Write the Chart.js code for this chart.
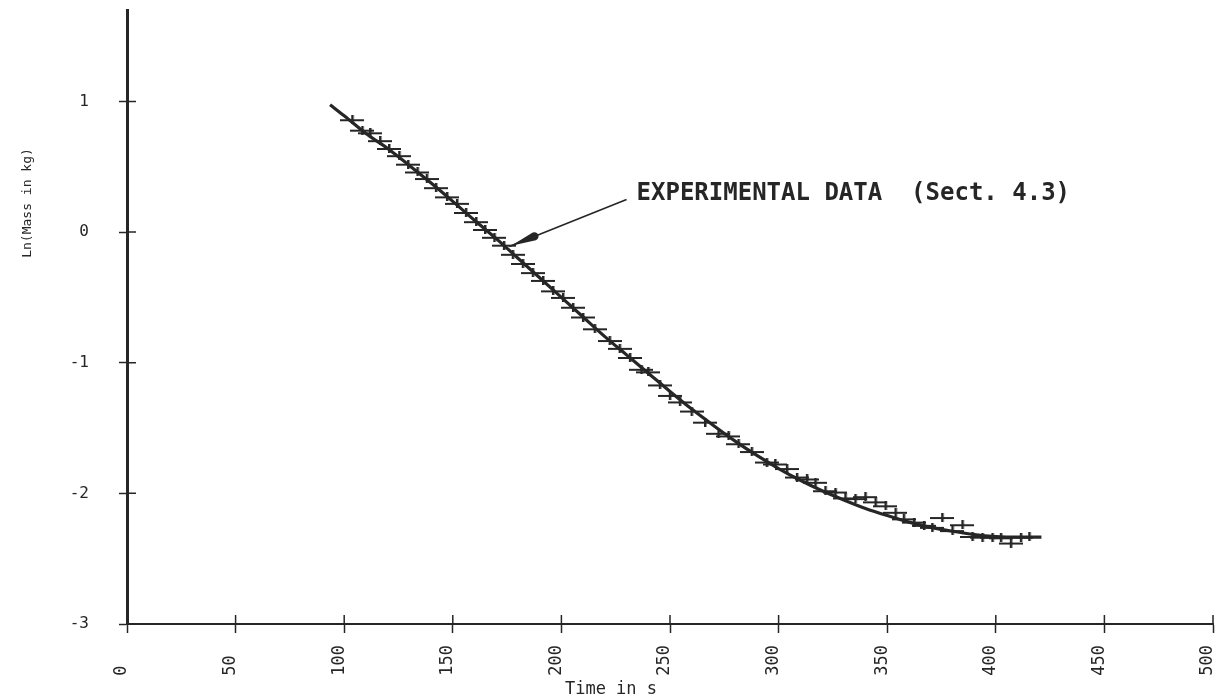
<!DOCTYPE html>
<html>
<head>
<meta charset="utf-8">
<script src="https://cdn.jsdelivr.net/npm/chart.js@4.4.1/dist/chart.umd.min.js"></script>
<style>
  html, body { margin: 0; padding: 0; background: #fff; }
  #wrap { width: 1231px; height: 699px; }
</style>
</head>
<body>
<div id="wrap"><canvas id="massChart"></canvas></div>
<script>
// measured points (time in s, ln of mass in kg)
const timeS = [
  103.7, 108.3, 111.9, 116.5, 120.6, 125.3, 129.4, 133.7, 138.0, 142.2,
  147.3, 151.9, 156.0, 160.7, 164.8, 169.1, 173.5, 177.6, 182.2, 186.8,
  191.5, 196.1, 200.7, 205.3, 209.9, 215.3, 222.2, 226.8, 231.5, 236.8,
  239.9, 245.3, 249.9, 254.5, 259.9, 266.1, 272.3, 276.9, 281.5, 287.6,
  294.5, 298.4, 303.8, 308.4, 313.0, 316.9, 321.5, 326.1, 330.7, 335.3,
  339.9, 344.6, 349.2, 353.8, 357.6, 362.3, 366.9, 370.7, 375.3, 380.0,
  384.6, 389.2, 393.8, 398.4, 402.3, 406.9, 411.5, 415.4
];
const lnMass = [
  0.86, 0.78, 0.76, 0.70, 0.64, 0.585, 0.52, 0.46, 0.41, 0.34,
  0.27, 0.22, 0.15, 0.08, 0.02, -0.04, -0.10, -0.17, -0.24, -0.31,
  -0.37, -0.45, -0.50, -0.575, -0.65, -0.74, -0.83, -0.89, -0.96, -1.05,
  -1.07, -1.17, -1.25, -1.30, -1.37, -1.455, -1.54, -1.56, -1.62, -1.68,
  -1.76, -1.775, -1.81, -1.875, -1.89, -1.915, -1.98, -1.99, -2.035, -2.04,
  -2.025, -2.065, -2.095, -2.145, -2.195, -2.22, -2.245, -2.26, -2.185, -2.285,
  -2.24, -2.33, -2.335, -2.335, -2.34, -2.38, -2.335, -2.33
];

// model curve
const fitTime = [
  93.5, 100, 110, 120, 130, 140, 150, 160, 170, 180, 190, 200, 210, 220, 230,
  240, 250, 260, 270, 280, 290, 300, 310, 320, 330, 340, 350, 360, 370, 380,
  390, 400, 410, 421
];
const fitLn = [
  0.975, 0.89, 0.755, 0.64, 0.51, 0.375, 0.235, 0.09, -0.05, -0.2, -0.35, -0.5, -0.65, -0.8, -0.94,
  -1.08, -1.22, -1.355, -1.48, -1.6, -1.71, -1.81, -1.9, -1.98, -2.05, -2.115, -2.17, -2.22, -2.26, -2.29,
  -2.315, -2.33, -2.335, -2.335
];

const xTicks = [0, 50, 100, 150, 200, 250, 300, 350, 400, 450, 500];
const yTicks = [-3, -2, -1, 0, 1];

const xTitle = 'Time in s';
const yTitle = 'Ln(Mass in kg)';
const noteText = 'EXPERIMENTAL DATA  (Sect. 4.3)';
const noteTip = [176, -0.11];   // arrow touches the data here
const noteTail = [230, 0.25];   // arrow starts here, text follows

const INK = '#262626';
const MONO = '"DejaVu Sans Mono", monospace';

// "+" marker: long horizontal bar, short vertical stroke
function crossMarker() {
  const c = document.createElement('canvas');
  c.width = 24;
  c.height = 9;
  const g = c.getContext('2d');
  g.fillStyle = INK;
  g.fillRect(0, 4, 24, 2);
  g.fillRect(11, 0, 2.5, 9);
  return c;
}

// tick marks that cross the axis line (Chart.js only draws the outer half)
const innerTicks = {
  id: 'innerTicks',
  afterDraw(chart) {
    const { ctx, chartArea, scales } = chart;
    ctx.save();
    ctx.strokeStyle = INK;
    ctx.lineWidth = 1.5;
    ctx.beginPath();
    xTicks.forEach(v => {
      const px = scales.x.getPixelForValue(v);
      ctx.moveTo(px, chartArea.bottom - 9);
      ctx.lineTo(px, chartArea.bottom);
    });
    yTicks.forEach(v => {
      const py = scales.y.getPixelForValue(v);
      ctx.moveTo(chartArea.left, py);
      ctx.lineTo(chartArea.left + 9, py);
    });
    ctx.stroke();
    ctx.restore();
  }
};

// axis titles and the arrow note
const labels = {
  id: 'labels',
  afterDraw(chart) {
    const { ctx, chartArea, scales } = chart;
    ctx.save();
    ctx.fillStyle = INK;

    ctx.font = '17px ' + MONO;
    ctx.textAlign = 'center';
    ctx.textBaseline = 'alphabetic';
    ctx.fillText(xTitle, chartArea.left + 484, 694);

    ctx.save();
    ctx.translate(28, chartArea.top + 193);
    ctx.rotate(-Math.PI / 2);
    ctx.font = '13px ' + MONO;
    ctx.textBaseline = 'middle';
    ctx.fillText(yTitle, 0, 0);
    ctx.restore();

    const tx = scales.x.getPixelForValue(noteTip[0]);
    const ty = scales.y.getPixelForValue(noteTip[1]);
    const ex = scales.x.getPixelForValue(noteTail[0]);
    const ey = scales.y.getPixelForValue(noteTail[1]);
    const ang = Math.atan2(ey - ty, ex - tx);

    ctx.strokeStyle = INK;
    ctx.lineWidth = 1.6;
    ctx.beginPath();
    ctx.moveTo(tx, ty);
    ctx.lineTo(ex, ey);
    ctx.stroke();

    // teardrop head
    ctx.save();
    ctx.translate(tx, ty);
    ctx.rotate(ang);
    ctx.beginPath();
    ctx.moveTo(2, 0);
    ctx.lineTo(26, -4);
    ctx.arc(27, 0, 4.2, -Math.PI / 2, Math.PI / 2);
    ctx.lineTo(2, 0);
    ctx.fill();
    ctx.restore();

    ctx.font = 'bold 24px ' + MONO;
    ctx.textAlign = 'left';
    ctx.textBaseline = 'alphabetic';
    ctx.fillText(noteText, ex + 10, ey + 1);
    ctx.restore();
  }
};

const ctx = document.getElementById('massChart').getContext('2d');
new Chart(ctx, {
  type: 'scatter',
  data: {
    datasets: [
      {
        label: 'fit',
        data: fitTime.map((t, i) => ({ x: t, y: fitLn[i] })),
        showLine: true,
        borderColor: INK,
        borderWidth: 3.2,
        pointRadius: 0,
        cubicInterpolationMode: 'monotone',
        order: 2
      },
      {
        label: 'experimental',
        data: timeS.map((t, i) => ({ x: t, y: lnMass[i] })),
        showLine: false,
        pointStyle: crossMarker(),
        pointRadius: 6,
        order: 1
      }
    ]
  },
  options: {
    responsive: true,
    maintainAspectRatio: false,
    animation: false,
    layout: { padding: { top: 10, right: 18, left: 0, bottom: 0 } },
    plugins: {
      legend: { display: false },
      tooltip: { enabled: false }
    },
    scales: {
      x: {
        type: 'linear',
        min: 0,
        max: 500,
        afterFit(scale) {
          scale.height = 75;
          scale.paddingLeft = 0;
          scale.paddingRight = 0;
        },
        afterBuildTicks(scale) { scale.ticks = xTicks.map(v => ({ value: v })); },
        border: { color: INK, width: 2 },
        grid: { drawOnChartArea: false, drawTicks: true, tickLength: 9, tickWidth: 1.5, tickColor: INK },
        ticks: {
          color: INK,
          font: { family: MONO, size: 17 },
          minRotation: 90,
          maxRotation: 90,
          padding: 12,
          labelOffset: -5,
          callback: v => String(v).padEnd(3, ' ')
        }
      },
      y: {
        type: 'linear',
        min: -3,
        max: 1.7,
        afterFit(scale) {
          scale.width = 127;
          scale.paddingTop = 0;
          scale.paddingBottom = 0;
        },
        afterBuildTicks(scale) { scale.ticks = yTicks.map(v => ({ value: v })); },
        border: { color: INK, width: 3 },
        grid: { drawOnChartArea: false, drawTicks: true, tickLength: 8, tickWidth: 1.5, tickColor: INK },
        ticks: {
          color: INK,
          font: { family: MONO, size: 16 },
          padding: 30,
          callback: v => String(v)
        }
      }
    }
  },
  plugins: [innerTicks, labels]
});
</script>
</body>
</html>
